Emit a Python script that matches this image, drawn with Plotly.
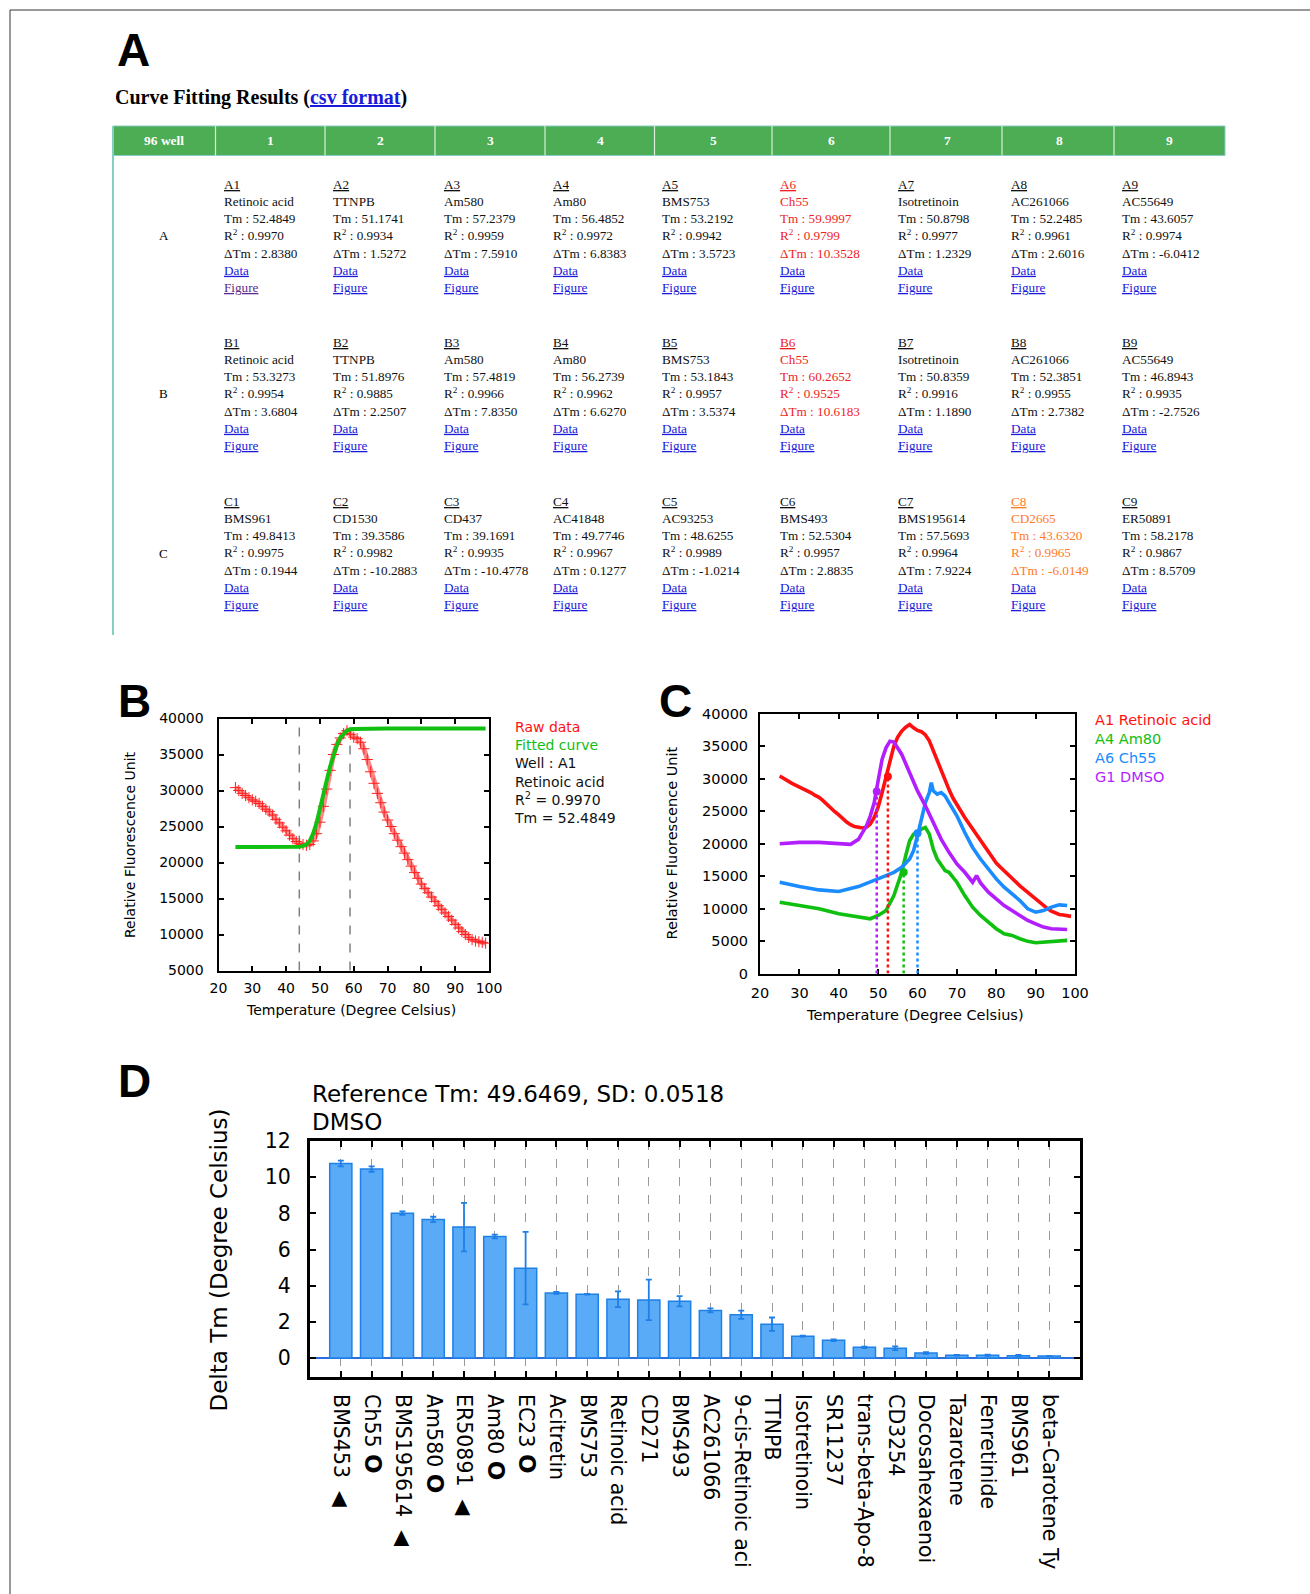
import plotly.graph_objects as go

W, H = 1310, 1594

# ---------------- Panel A : curve fitting table ----------------
plate_rows = ["A", "B", "C"]
plate_cols = ["1", "2", "3", "4", "5", "6", "7", "8", "9"]
compounds_A = ["Retinoic acid", "TTNPB", "Am580", "Am80", "BMS753", "Ch55", "Isotretinoin", "AC261066", "AC55649"]
compounds_B = ["Retinoic acid", "TTNPB", "Am580", "Am80", "BMS753", "Ch55", "Isotretinoin", "AC261066", "AC55649"]
compounds_C = ["BMS961", "CD1530", "CD437", "AC41848", "AC93253", "BMS493", "BMS195614", "CD2665", "ER50891"]
tm_A = [52.4849, 51.1741, 57.2379, 56.4852, 53.2192, 59.9997, 50.8798, 52.2485, 43.6057]
tm_B = [53.3273, 51.8976, 57.4819, 56.2739, 53.1843, 60.2652, 50.8359, 52.3851, 46.8943]
tm_C = [49.8413, 39.3586, 39.1691, 49.7746, 48.6255, 52.5304, 57.5693, 43.6320, 58.2178]
r2_A = [0.9970, 0.9934, 0.9959, 0.9972, 0.9942, 0.9799, 0.9977, 0.9961, 0.9974]
r2_B = [0.9954, 0.9885, 0.9966, 0.9962, 0.9957, 0.9525, 0.9916, 0.9955, 0.9935]
r2_C = [0.9975, 0.9982, 0.9935, 0.9967, 0.9989, 0.9957, 0.9964, 0.9965, 0.9867]
dtm_A = [2.8380, 1.5272, 7.5910, 6.8383, 3.5723, 10.3528, 1.2329, 2.6016, -6.0412]
dtm_B = [3.6804, 2.2507, 7.8350, 6.6270, 3.5374, 10.6183, 1.1890, 2.7382, -2.7526]
dtm_C = [0.1944, -10.2883, -10.4778, 0.1277, -1.0214, 2.8835, 7.9224, -6.0149, 8.5709]
red_wells = ["A6", "B6"]
orange_wells = ["C8"]
visited_wells = ["A1"]

# ---------------- Panel B : A1 raw data and fitted curve ----------------
b_temp = [25, 26, 27, 28, 29, 30, 31, 32, 33, 34, 35, 36, 37, 38, 39, 40, 41, 42, 43, 44,
          45, 46, 47, 48, 49, 50, 51, 52, 53, 54, 55, 56, 57, 58, 59, 60, 61, 62, 63, 64,
          65, 66, 67, 68, 69, 70, 71, 72, 73, 74, 75, 76, 77, 78, 79, 80, 81, 82, 83, 84,
          85, 86, 87, 88, 89, 90, 91, 92, 93, 94, 95, 96, 97, 98, 99]
b_raw = [30400, 30000, 29600, 29300, 29000, 28700, 28500, 28200, 27800, 27400,
         27100, 26600, 26000, 25500, 24900, 24400, 23800, 23300, 22900, 22600,
         22500, 22400, 22500, 23000, 24000, 25600, 27800, 30200, 32800, 35000,
         36400, 37300, 37900, 38300, 37800, 37400, 37200, 36700, 35800, 34300,
         32600, 31000, 29600, 28300, 27000, 25900, 25000, 24000, 23100, 22200,
         21300, 20400, 19500, 18600, 17800, 17000, 16400, 15800, 15200, 14600,
         14000, 13500, 13000, 12500, 12000, 11400, 10900, 10400, 10000, 9600,
         9300, 9100, 9000, 8900, 8800]
b_fit_temp = [25, 35, 44, 45, 46, 47, 48, 49, 50, 51, 52, 53, 54, 55, 56, 57, 58, 59, 60, 70, 99]
b_fit = [22150, 22150, 22200, 22300, 22500, 23000, 24000, 25500, 27300, 29300, 31400,
         33300, 35000, 36300, 37300, 37900, 38300, 38500, 38550, 38600, 38600]
b_bounds = [43.9, 58.9]
b_legend = ["Raw data", "Fitted curve", "Well : A1", "Retinoic acid", "R<sup>2</sup> = 0.9970", "Tm = 52.4849"]

# ---------------- Panel C : four wells ----------------
c_names = ["A1 Retinoic acid", "A4 Am80", "A6 Ch55", "G1 DMSO"]
c_ra_temp = b_temp
c_ra = b_raw
c_am80_temp = [25, 30, 35, 40, 45, 48, 50, 52, 54, 56, 57, 58, 59, 60, 61, 62, 63, 64, 65, 66,
               67, 68, 70, 72, 74, 76, 78, 80, 82, 84, 86, 88, 90, 92, 94, 96, 98]
c_am80 = [10980, 10470, 9960, 9200, 8680, 8430, 8940, 9700, 12000, 15580, 18130, 20430,
          21450, 21700, 22220, 22480, 21450, 19150, 17620, 16600, 15840, 15580, 14050, 12000,
          10220, 8940, 7920, 6900, 6130, 5870, 5360, 4960, 4750, 4850, 4960, 5110, 5110]
c_ch55_temp = [25, 30, 35, 40, 45, 48, 50, 52, 54, 56, 58, 59, 60, 61, 62, 63, 63.5, 64, 65, 66,
               67, 68, 70, 72, 74, 76, 78, 80, 82, 84, 86, 88, 90, 92, 94, 96, 98]
c_ch55 = [14050, 13380, 12870, 12620, 13380, 14050, 14560, 15070, 15580, 16350, 17620, 18900,
          21200, 23750, 26300, 27840, 29370, 28100, 27590, 27840, 27330, 26300, 24270, 21700,
          19400, 17620, 16090, 14560, 13280, 12260, 11240, 9960, 9450, 9700, 10220, 10570, 10470]
c_dmso_temp = [25, 30, 35, 40, 43, 45, 47, 48, 49, 49.5, 50, 51, 52, 53, 54, 55, 56, 58, 60, 62,
               64, 66, 68, 70, 72, 74, 75, 76, 78, 80, 82, 84, 86, 88, 90, 92, 94, 96, 98]
c_dmso = [19980, 20180, 20180, 19980, 19880, 20640, 22690, 24220, 26260, 28000, 29860, 32930,
          34720, 35740, 35600, 34720, 33700, 30900, 28100, 25800, 23240, 20690, 18650, 16860,
          15580, 14050, 15070, 13950, 12520, 11490, 10470, 9700, 8940, 8170, 7660, 7150, 6900,
          6790, 6790]
c_tm = [52.4849, 56.4852, 59.9997, 49.6469]
c_tm_height = [30300, 15600, 21600, 28000]

# ---------------- Panel D : delta Tm bar chart ----------------
d_compounds = ["BMS453", "Ch55", "BMS195614", "Am580", "ER50891", "Am80", "EC23", "Acitretin",
               "BMS753", "Retinoic acid", "CD271", "BMS493", "AC261066", "9-cis-Retinoic aci",
               "TTNPB", "Isotretinoin", "SR11237", "trans-beta-Apo-8", "CD3254",
               "Docosahexaenoi", "Tazarotene", "Fenretinide", "BMS961", "beta-Carotene Ty"]
d_delta_tm = [10.76, 10.45, 8.01, 7.66, 7.24, 6.72, 4.97, 3.60, 3.53, 3.25, 3.21, 3.14,
              2.63, 2.39, 1.87, 1.21, 0.98, 0.59, 0.54, 0.28, 0.15, 0.15, 0.13, 0.11]
d_sd = [0.16, 0.15, 0.10, 0.15, 1.34, 0.10, 2.00, 0.05, 0.02, 0.44, 1.12, 0.28,
        0.11, 0.23, 0.37, 0.03, 0.05, 0.04, 0.10, 0.05, 0.02, 0.03, 0.04, 0.01]
d_flags = ["tri", "circ", "tri", "circ", "tri", "circ", "circ"] + [""] * 17
d_title = ["Reference Tm: 49.6469, SD: 0.0518", "DMSO"]


# ================= figure construction =================
def fx(p):
    return p / W


def fy(p):
    return 1 - p / H


SERIF = "Liberation Serif"
SANS = "DejaVu Sans"
BOLD = "Liberation Sans"
LINK = "#1a1adb"

fig = go.Figure()
annotations = []
shapes = []


def ann(x, y, text, size, family=SANS, color="black", xanchor="center", yanchor="middle",
        align="center", angle=0):
    annotations.append(dict(x=fx(x), y=fy(y), xref="paper", yref="paper", text=text,
                            showarrow=False, xanchor=xanchor, yanchor=yanchor, align=align,
                            textangle=angle, font=dict(family=family, size=size, color=color)))


# page frame
shapes.append(dict(type="line", xref="paper", yref="paper", x0=fx(10), x1=1, y0=fy(10), y1=fy(10),
                   line=dict(color="#333", width=1)))
shapes.append(dict(type="line", xref="paper", yref="paper", x0=fx(10), x1=fx(10), y0=fy(10), y1=0,
                   line=dict(color="#333", width=1)))

# panel letters
ann(133, 50, "<b>A</b>", 46, BOLD)
ann(134, 701, "<b>B</b>", 46, BOLD)
ann(676, 701, "<b>C</b>", 46, BOLD)
ann(134, 1081, "<b>D</b>", 46, BOLD)

# ---- table ----
ann(113, 97, "<b>Curve Fitting Results (<span style='color:#1a1adb'><u>csv format</u></span>)</b>",
    20, SERIF, xanchor="left")
shapes.append(dict(type="rect", xref="paper", yref="paper", x0=fx(113), x1=fx(1225),
                   y0=fy(155.5), y1=fy(126), fillcolor="#4dad55", line=dict(color="#86cdc4", width=1)))
for xd in [215.5, 325, 435, 545, 654.5, 772, 890, 1002, 1114]:
    shapes.append(dict(type="line", xref="paper", yref="paper", x0=fx(xd), x1=fx(xd),
                       y0=fy(155.5), y1=fy(126), line=dict(color="#d8eed8", width=1.2)))
shapes.append(dict(type="line", xref="paper", yref="paper", x0=fx(113), x1=fx(113),
                   y0=fy(126), y1=fy(635), line=dict(color="#86cdc4", width=2)))

header_x = [163.6, 270, 380, 490, 600, 713.5, 831, 947, 1059, 1169]
header_labels = ["96 well"] + plate_cols
for hx, lab in zip(header_x, header_labels):
    ann(hx, 140.5, f"<b>{lab}</b>", 13.5, SERIF, color="white")

cell_x = [222, 330.5, 441.5, 550.5, 660, 778, 896, 1008.5, 1119.5]
row_y = [236, 394, 553]
table = {
    "A": (compounds_A, tm_A, r2_A, dtm_A),
    "B": (compounds_B, tm_B, r2_B, dtm_B),
    "C": (compounds_C, tm_C, r2_C, dtm_C),
}
for ri, row in enumerate(plate_rows):
    ann(163.6, row_y[ri], row, 13, SERIF)
    names, tms, r2s, dtms = table[row]
    for ci, col in enumerate(plate_cols):
        well = row + col
        color = "#f01e1e" if well in red_wells else ("#ff7a1e" if well in orange_wells else "#111111")
        fig_color = "#5b2c8c" if well in visited_wells else LINK
        lines = [f"<u>{well}</u>", names[ci], f"Tm : {tms[ci]:.4f}",
                 f"R<sup>2</sup> : {r2s[ci]:.4f}", f"ΔTm : {dtms[ci]:.4f}"]
        body = "<br>".join(f"<span style='color:{color}'>{t}</span>" for t in lines)
        body += (f"<br><span style='color:{LINK}'><u>Data</u></span>"
                 f"<br><span style='color:{fig_color}'><u>Figure</u></span>")
        ann(cell_x[ci], row_y[ri], body, 13.2, SERIF, xanchor="left", align="left")

# ---- panel B ----
RED, GREEN, BLUE, PURPLE = "#ff1010", "#10c010", "#1a8cff", "#b31eff"
fig.add_trace(go.Scatter(x=b_temp, y=b_raw, mode="lines+markers", xaxis="x", yaxis="y",
                         line=dict(color="rgba(255,40,40,0.55)", width=5),
                         marker=dict(symbol="cross-thin", size=8, line=dict(color="#ff2020", width=1)),
                         showlegend=False))
fig.add_trace(go.Scatter(x=b_fit_temp, y=b_fit, mode="lines", xaxis="x", yaxis="y",
                         line=dict(color="#12c012", width=4), showlegend=False))
for bx in b_bounds:
    shapes.append(dict(type="line", xref="x", yref="y domain", x0=bx, x1=bx, y0=0, y1=1,
                       line=dict(color="#808080", width=1.5, dash="dash"), layer="below"))
b_colors = [RED, GREEN, "#111", "#111", "#111", "#111"]
ann(512, 772, "<br>".join(f"<span style='color:{c}'>{t}</span>" for t, c in zip(b_legend, b_colors)),
    14, SANS, xanchor="left", align="left")
ann(130, 845, "Relative Fluorescence Unit", 14, SANS, angle=-90)
ann(351, 1010, "Temperature (Degree Celsius)", 14, SANS)

# ---- panel C ----
c_colors = [RED, GREEN, BLUE, PURPLE]
c_series = [(c_ra_temp, c_ra), (c_am80_temp, c_am80), (c_ch55_temp, c_ch55), (c_dmso_temp, c_dmso)]
for (tx, ty), col in zip(c_series, c_colors):
    fig.add_trace(go.Scatter(x=tx, y=ty, mode="lines", xaxis="x2", yaxis="y2",
                             line=dict(color=col, width=3.6), showlegend=False))
for t, h, col in zip(c_tm, c_tm_height, c_colors):
    shapes.append(dict(type="line", xref="x2", yref="y2", x0=t, x1=t, y0=0, y1=h,
                       line=dict(color=col, width=2.5, dash="dot")))
fig.add_trace(go.Scatter(x=c_tm, y=c_tm_height, mode="markers", xaxis="x2", yaxis="y2",
                         marker=dict(color=c_colors, size=8), showlegend=False))
ann(1092.5, 748, "<br>".join(f"<span style='color:{c}'>{t}</span>" for t, c in zip(c_names, c_colors)),
    14.5, SANS, xanchor="left", align="left")
ann(671, 843.5, "Relative Fluorescence Unit", 14.5, SANS, angle=-90)
ann(915, 1015, "Temperature (Degree Celsius)", 14.5, SANS)

# ---- panel D ----
glyph = {"tri": "  ◀", "circ": " <span style='font-size:23px'><b>O</b></span>", "": ""}
d_ticktext = [n + glyph[f] for n, f in zip(d_compounds, d_flags)]
fig.add_trace(go.Bar(x=d_compounds, y=d_delta_tm, xaxis="x3", yaxis="y3", width=0.72,
                     marker=dict(color="#5aabf7", line=dict(color="#1f80e6", width=1.5)),
                     error_y=dict(type="data", array=d_sd, color="#1f7fe6", thickness=1.8, width=3),
                     showlegend=False))
ann(310, 1093.5, d_title[0], 23, SANS, xanchor="left")
ann(310, 1122, d_title[1], 23, SANS, xanchor="left")
ann(218.5, 1260, "Delta Tm (Degree Celsius)", 23, SANS, angle=-90)

frame = dict(showline=True, linecolor="black", mirror="ticks", ticks="inside",
             tickcolor="black", showgrid=False, zeroline=False)

fig.update_layout(
    width=W, height=H, autosize=False, template="none",
    margin=dict(l=0, r=0, t=0, b=0),
    paper_bgcolor="white", plot_bgcolor="white",
    font=dict(family=SANS, color="black"),
    annotations=annotations, shapes=shapes,
    xaxis=dict(domain=[fx(218.5), fx(489)], anchor="y", range=[20, 100], dtick=10,
               linewidth=2, ticklen=5, tickwidth=1.5, tickfont=dict(size=14),
               ticklabelstandoff=4, tickformat="d", **frame),
    yaxis=dict(domain=[fy(970.5), fy(718.5)], anchor="x", range=[5000, 40000], dtick=5000,
               linewidth=2, ticklen=5, tickwidth=1.5, tickfont=dict(size=14),
               ticklabelstandoff=10, tickformat="d", **frame),
    xaxis2=dict(domain=[fx(760), fx(1075)], anchor="y2", range=[20, 100], dtick=10,
                linewidth=2, ticklen=5, tickwidth=1.5, tickfont=dict(size=14.5),
                ticklabelstandoff=5, tickformat="d", **frame),
    yaxis2=dict(domain=[fy(973.6), fy(713.5)], anchor="x2", range=[0, 40000], dtick=5000,
                linewidth=2, ticklen=5, tickwidth=1.5, tickfont=dict(size=14.5),
                ticklabelstandoff=7, tickformat="d", **frame),
    xaxis3=dict(domain=[fx(310), fx(1080)], anchor="y3", range=[-1.0, 24.0],
                tickmode="array", tickvals=d_compounds, ticktext=d_ticktext, tickangle=90,
                showline=True, linecolor="black", linewidth=3, mirror="ticks", ticks="inside",
                ticklen=6, tickwidth=1.5, tickcolor="black", tickfont=dict(size=20.5),
                showgrid=True, gridcolor="#9a9a9a", griddash="dash", gridwidth=1,
                zeroline=False, ticklabelstandoff=10),
    yaxis3=dict(domain=[fy(1377), fy(1141)], anchor="x3", range=[-1.05, 12], dtick=2,
                showline=True, linecolor="black", linewidth=3, mirror="ticks", ticks="inside",
                ticklen=6, tickwidth=1.5, tickcolor="black", tickfont=dict(size=20.5),
                showgrid=False, zeroline=True, zerolinecolor="#2a6ee0", zerolinewidth=2,
                ticklabelstandoff=12),
)

fig.write_html("out.html", config={"displayModeBar": False},
               post_script="document.body.style.margin='0px';")
